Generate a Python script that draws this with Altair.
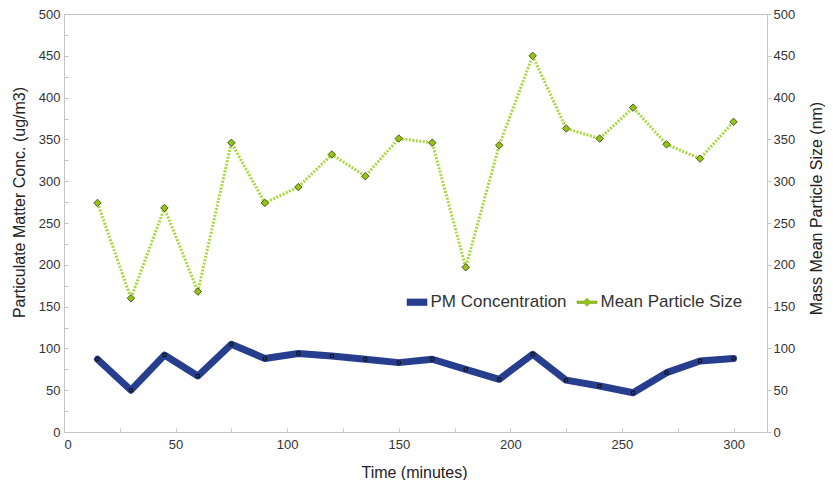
import altair as alt
import pandas as pd

# ---- data ----
time_min = [15, 30, 45, 60, 75, 90, 105, 120, 135, 150,
            165, 180, 195, 210, 225, 240, 255, 270, 285, 300]
pm_conc = [87, 50, 92, 67, 105, 88, 94, 91, 87, 83,
           87, 75, 63, 93, 62, 55, 47, 71, 85, 88]
particle_size = [274, 160, 268, 168, 346, 274, 293, 332, 306, 351,
                 346, 197, 343, 450, 363, 351, 388, 344, 327, 371]
series_names = ["PM Concentration", "Mean Particle Size"]
x_ticks = [0, 50, 100, 150, 200, 250, 300]
x_minor = [0, 25, 50, 75, 100, 125, 150, 175, 200, 225, 250, 275, 300]
y_ticks = [0, 50, 100, 150, 200, 250, 300, 350, 400, 450, 500]
y_minor = [0, 25, 50, 75, 100, 125, 150, 175, 200, 225, 250, 275, 300,
           325, 350, 375, 400, 425, 450, 475, 500]

df = pd.DataFrame({"time": time_min, "pm": pm_conc, "size": particle_size})
df["series"] = series_names[0]

FONT = "Liberation Sans"
BLUE = "#263e8d"
GREEN = "#a8d83e"
MARK_GREEN = "#94c414"
AXIS_GRAY = "#c4c4c4"
W, H = 703, 418
TOP = 6

xs = alt.Scale(domain=[0, 315], nice=False, zero=False)
ys = alt.Scale(domain=[0, 500], nice=False)
color_scale = alt.Scale(domain=series_names, range=[BLUE, MARK_GREEN])

BAR_PATH = "M-1,-0.33L1,-0.33L1,0.33L-1,0.33Z"
DIAMOND_PATH = ("M-1,-0.12L-0.28,-0.12L0,-0.4L0.28,-0.12L1,-0.12L1,0.12"
                "L0.28,0.12L0,0.4L-0.28,0.12L-1,0.12Z")
is_pm = "datum.value === 'PM Concentration'"

legend = alt.Legend(
    title=None, orient="none", legendX=342.5, legendY=277.5,
    direction="horizontal", labelFont=FONT, labelFontSize=17,
    labelColor="#333333", symbolSize=400, labelOffset=3,
    columnPadding=8, padding=0, symbolOpacity=1,
    symbolType={"expr": f"{is_pm} ? '{BAR_PATH}' : '{DIAMOND_PATH}'"},
    symbolStrokeColor={"expr": f"{is_pm} ? '{BLUE}' : '#7a9a20'"},
    symbolStrokeWidth=0.6,
)

label_kw = dict(labelFont=FONT, labelFontSize=13, labelColor="#333333")
title_kw = dict(titleFont=FONT, titleFontSize=16, titleFontWeight="normal",
                titleColor="#222222")

x_axis = alt.Axis(values=x_ticks, ticks=False, domain=False, grid=False,
                  labelPadding=6, title="Time (minutes)",
                  titleX=350, titleY=40, titleBaseline="middle",
                  **label_kw, **title_kw)
left_axis = alt.Axis(orient="left", values=y_ticks, ticks=False, domain=False,
                     grid=False, labelPadding=4,
                     title="Particulate Matter Conc. (ug/m3)",
                     titleAngle=270, titleX=-44.5, titleY=188,
                     titleBaseline="middle", **label_kw, **title_kw)
right_axis = alt.Axis(orient="right", values=y_ticks, ticks=True, tickSize=4,
                      tickColor=AXIS_GRAY, domain=False, grid=False,
                      labelPadding=2, title="Mass Mean Particle Size (nm)",
                      titleAngle=270, titleX=49.5, titleY=194,
                      titleBaseline="middle", **label_kw, **title_kw)
minor_x_axis = alt.Axis(orient="top", offset=-H, values=x_minor, labels=False,
                        ticks=True, tickSize=4, tickColor=AXIS_GRAY,
                        domain=False, grid=False, title=None)
minor_y_axis = alt.Axis(orient="right", offset=-W, values=y_minor, labels=False,
                        ticks=True, tickSize=4, tickColor=AXIS_GRAY,
                        domain=False, grid=False, title=None)

base = alt.Chart(df)

blue_line = base.mark_line(strokeWidth=7, strokeJoin="round", strokeCap="round",
                           color=BLUE).encode(
    x=alt.X("time:Q", scale=xs, axis=x_axis),
    y=alt.Y("pm:Q", scale=ys, axis=left_axis),
)
blue_pts = base.mark_point(shape="square", size=10, filled=False, color="#111111",
                           strokeWidth=1, opacity=1).encode(x="time:Q", y="pm:Q")
layer_pm = alt.layer(blue_line, blue_pts)

green_line = base.mark_line(strokeWidth=3, strokeDash=[2, 1.5], color=GREEN).encode(
    x=alt.X("time:Q", scale=xs, axis=None),
    y=alt.Y("size:Q", scale=ys, axis=right_axis),
)
green_pts = base.mark_point(shape="diamond", size=55, filled=True, fill=MARK_GREEN,
                            stroke="#4d5a1e", strokeWidth=1, opacity=1).encode(
    x="time:Q", y="size:Q")
layer_size = alt.layer(green_line, green_pts)

# helper layer: inward minor ticks + legend (its own points have zero size)
helper = base.mark_point(filled=True, size=0).encode(
    x=alt.X("time:Q", scale=xs, axis=minor_x_axis),
    y=alt.Y("pm:Q", scale=ys, axis=minor_y_axis),
    color=alt.Color("series:N", scale=color_scale, legend=legend),
)

chart = alt.layer(layer_pm, layer_size, helper).resolve_scale(
    x="independent", y="independent"
).properties(
    width=W, height=H,
    autosize=alt.AutoSizeParams(type="none"),
    padding={"left": 56, "top": TOP, "right": 58, "bottom": 472 - TOP - H},
    background="white",
).configure_view(stroke=AXIS_GRAY, strokeWidth=1)

chart.save("out.html", embed_options={"renderer": "svg", "actions": False})
